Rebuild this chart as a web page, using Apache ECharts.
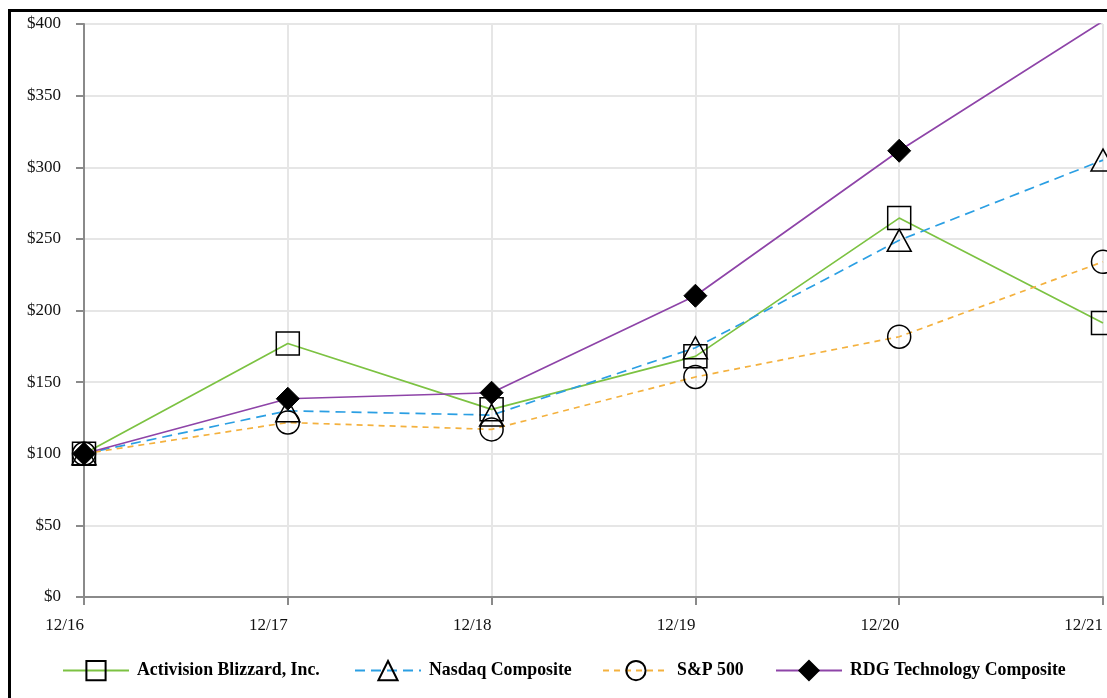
<!DOCTYPE html>
<html>
<head>
<meta charset="utf-8">
<script src="https://cdn.jsdelivr.net/npm/echarts@6/dist/echarts.min.js"></script>
<style>
  html, body { margin: 0; padding: 0; background: #fff; overflow: hidden; }
  #chart { position: absolute; left: 0; top: 0; width: 1107px; height: 698px; }
  #frame { position: absolute; left: 8px; top: 9px; width: 1300px; height: 900px; border: 3px solid #000; pointer-events: none; }
</style>
</head>
<body>
<div id="chart"></div>
<div id="frame"></div>
<script>
const categories = ['12/16', '12/17', '12/18', '12/19', '12/20', '12/21'];
const activision = [100, 177, 131, 168, 264.5, 191.3];
const nasdaq = [100, 130, 127, 174, 249, 305];
const sp500 = [100, 121.8, 117, 153.6, 181.7, 234];
const rdgTech = [100, 138.4, 142.6, 210.3, 311.5, 402];
const yTicks = [0, 50, 100, 150, 200, 250, 300, 350, 400];

const seriesNames = ['Activision Blizzard, Inc.', 'Nasdaq Composite', 'S&P 500', 'RDG Technology Composite'];
const serif = '"Liberation Serif", "DejaVu Serif", serif';

const chart = echarts.init(document.getElementById('chart'), null, { renderer: 'canvas' });

const markerStyle = (fill) => ({ color: fill, borderColor: '#000', borderWidth: 1.5 });

const legendLefts = [62, 354, 602, 775];
const legends = seriesNames.map((n, i) => ({
  data: [n],
  left: legendLefts[i],
  top: 660,
  padding: 0,
  orient: 'horizontal',
  itemWidth: 66,
  itemHeight: 24,
  selectedMode: false,
  textStyle: { fontFamily: serif, fontSize: 17.8, fontWeight: 'bold', color: '#000', padding: [0, 0, 0, 3] }
}));

chart.setOption({
  animation: false,
  backgroundColor: '#fff',
  legend: legends,
  grid: { left: 84, right: 4, top: 24, bottom: 101, containLabel: false },
  xAxis: {
    type: 'category',
    data: categories,
    boundaryGap: false,
    axisLine: { show: true, lineStyle: { color: '#8a8a8a', width: 2 } },
    axisTick: { show: true, alignWithLabel: true, length: 8, lineStyle: { color: '#8a8a8a', width: 2 } },
    axisLabel: { color: '#111', fontFamily: serif, fontSize: 17, margin: 20, align: 'right' },
    splitLine: { show: true, lineStyle: { color: '#e6e6e6', width: 2 } }
  },
  yAxis: {
    type: 'value',
    min: yTicks[0],
    max: yTicks[yTicks.length - 1],
    interval: 50,
    axisLine: { show: true, lineStyle: { color: '#8a8a8a', width: 2 } },
    axisTick: { show: true, length: 8, lineStyle: { color: '#8a8a8a', width: 2 } },
    axisLabel: { color: '#111', fontFamily: serif, fontSize: 17, margin: 23, formatter: v => '$' + v },
    splitLine: { show: true, lineStyle: { color: '#e6e6e6', width: 2 } }
  },
  series: [
    {
      name: seriesNames[0], type: 'line', data: activision,
      symbol: 'rect', symbolSize: 23,
      lineStyle: { color: '#7cc242', width: 1.7, type: 'solid' },
      itemStyle: markerStyle('rgba(255,255,255,0)'),
      color: '#7cc242'
    },
    {
      name: seriesNames[1], type: 'line', data: nasdaq,
      symbol: 'triangle', symbolSize: [24, 22],
      lineStyle: { color: '#2b9fe3', width: 1.7, type: [10, 6] },
      itemStyle: markerStyle('rgba(255,255,255,0)'),
      color: '#2b9fe3'
    },
    {
      name: seriesNames[2], type: 'line', data: sp500,
      symbol: 'circle', symbolSize: 23,
      lineStyle: { color: '#f4b13e', width: 1.7, type: [6, 5] },
      itemStyle: markerStyle('rgba(255,255,255,0)'),
      color: '#f4b13e'
    },
    {
      name: seriesNames[3], type: 'line', data: rdgTech,
      symbol: 'diamond', symbolSize: 23,
      lineStyle: { color: '#8e44a8', width: 1.7, type: 'solid' },
      itemStyle: { color: '#000', borderColor: '#000', borderWidth: 1 },
      color: '#8e44a8'
    }
  ]
});
</script>
</body>
</html>
